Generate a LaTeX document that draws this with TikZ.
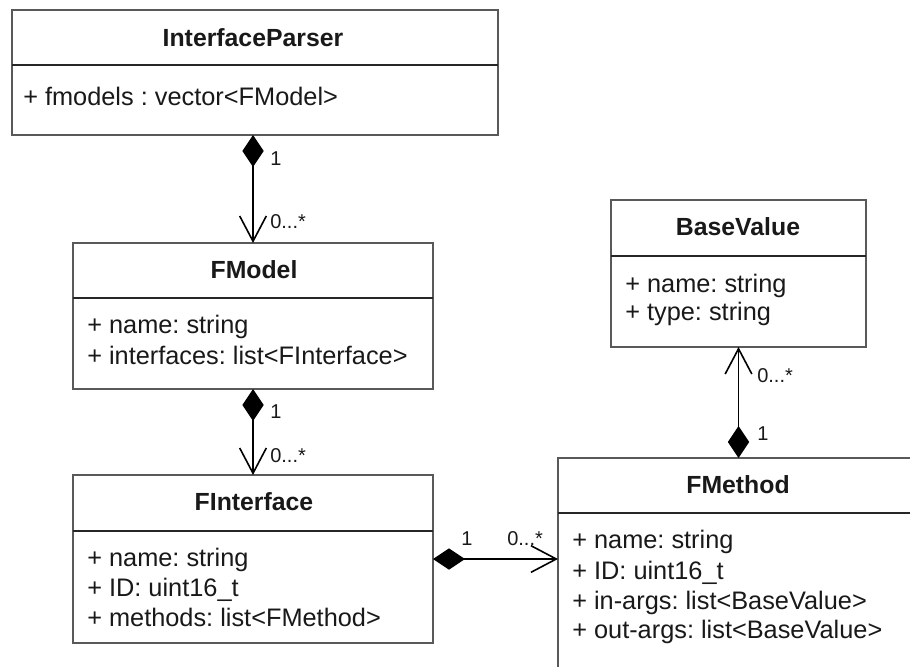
\documentclass[tikz,border=0pt]{standalone}
\usepackage{fontspec}
\setmainfont{Liberation Sans}
\usetikzlibrary{arrows.meta}
\frenchspacing
\begin{document}
\begin{tikzpicture}[x=0.75pt,y=-0.75pt,
  box/.style={draw=black!65, line width=1.6pt, fill=white, inner sep=0pt, outer sep=0pt, anchor=north west},
  sepline/.style={draw=black!85, line width=1pt},
  title/.style={font=\fontsize{18.6}{21}\selectfont\bfseries, text=black!90, inner sep=0pt, anchor=base},
  attr/.style={font=\fontsize{19}{22}\selectfont, text=black!90, inner sep=0pt, anchor=base west},
  mult/.style={font=\fontsize{15}{17}\selectfont, text=black!90, inner sep=0pt, anchor=base west},
  assoc/.style={line width=1.2pt, draw=black, {Diamond[length=24pt,width=16pt]}-{Straight Barb[length=19pt,width=20pt,line width=1.2pt]}}
]
\useasboundingbox[fill=white] (0,0) rectangle (910,667);
\clip (0,0) rectangle (910,667);

% boxes
\node[box, minimum width=364.5pt, minimum height=93.75pt] (ip) at (12,10) {};
\node[box, minimum width=270pt, minimum height=109.5pt] (fm) at (73,243) {};
\node[box, minimum width=270pt, minimum height=126pt] (fi) at (73,475) {};
\node[box, minimum width=279pt, minimum height=174pt] (fme) at (558,458) {};
\node[box, minimum width=191.25pt, minimum height=110.25pt] (bv) at (611,200) {};

% separators
\draw[sepline] (ip.west |- 0,65) -- (ip.east |- 0,65);
\draw[sepline] (fm.west |- 0,298) -- (fm.east |- 0,298);
\draw[sepline] (fi.west |- 0,531) -- (fi.east |- 0,531);
\draw[sepline] (fme.west |- 0,513) -- (fme.east |- 0,513);
\draw[sepline] (bv.west |- 0,256) -- (bv.east |- 0,256);

% titles
\node[title] (ipt) at (253,47) {InterfaceParser};
\node[title] (fmt) at (254,278) {FModel};
\node[title] (fit) at (254,510) {FInterface};
\node[title] (fmet) at (738,493) {FMethod};
\node[title] (bvt) at (738,235) {BaseValue};

% attributes
\node[attr] (ipa1) at (23,105) {+ fmodels : vector<FModel>};
\node[attr] (fma1) at (87,333) {+ name: string};
\node[attr] (fma2) at (87,364) {+ interfaces: list<FInterface>};
\node[attr] (fia1) at (87,566) {+ name: string};
\node[attr] (fia2) at (87,596) {+ ID: uint16\_t};
\node[attr] (fia3) at (87,626) {+ methods: list<FMethod>};
\node[attr] (fmea1) at (572,548) {+ name: string};
\node[attr] (fmea2) at (572,579) {+ ID: uint16\_t};
\node[attr] (fmea3) at (572,609) {+ in-args: list<BaseValue>};
\node[attr] (fmea4) at (572,638) {+ out-args: list<BaseValue>};
\node[attr] (bva1) at (625,292) {+ name: string};
\node[attr] (bva2) at (625,320) {+ type: string};

% connectors
\draw[assoc] (fm.north |- ip.south) -- (fm.north);
\draw[assoc] (fm.south) -- (fi.north);
\draw[assoc] (fi.east) -- (fi.east -| fme.west);
\draw[assoc] (bv.south |- fme.north) -- (bv.south);

% multiplicities
\node[mult] (m1a) at (270,165) {1};
\node[mult] (m1b) at (270,228) {0...*};
\node[mult] (m2a) at (270,418) {1};
\node[mult] (m2b) at (270,462) {0...*};
\node[mult] (m3a) at (461,545) {1};
\node[mult] (m3b) at (507,545) {0...*};
\node[mult] (m4a) at (757,382) {0...*};
\node[mult] (m4b) at (757,440) {1};
\end{tikzpicture}
\end{document}
